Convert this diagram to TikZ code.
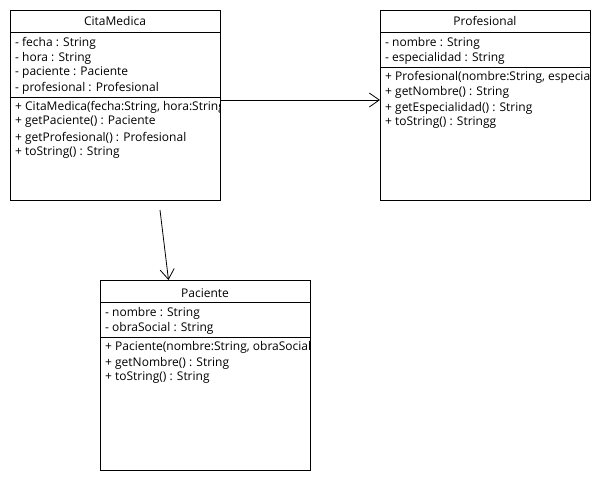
\documentclass[tikz,border=0pt]{standalone}
\usepackage{fontspec}
\setmainfont{Open Sans}
\usetikzlibrary{arrows.meta}
\begin{document}
\begin{tikzpicture}[x=1pt,y=-1pt,
  classbox/.style={draw,line width=0.8pt,minimum width=210pt,minimum height=190pt,anchor=north west,inner sep=0pt},
  sep/.style={line width=0.8pt},
  member/.style={anchor=west,inner sep=0pt,font=\fontsize{12}{14}\selectfont},
  title/.style={anchor=center,inner sep=0pt,font=\fontsize{12}{14}\selectfont},
  assoc/.style={line width=0.8pt,-{Straight Barb[length=10pt,width=14pt,line width=0.8pt]}}]
\useasboundingbox (0,0) rectangle (600,480);

% CitaMedica
\node[classbox] (cita) at (10,10) {};
\draw[sep] (10,32) -- (220,32);
\draw[sep] (10,97) -- (220,97);
\node[title] (citaname) at (115,21) {CitaMedica};
\begin{scope}
  \clip (10,10) rectangle (220,200);
  \node[member] (c1) at (15,43) {- fecha : String};
  \node[member] (c2) at (15,58) {- hora : String};
  \node[member] (c3) at (15,73) {- paciente : Paciente};
  \node[member] (c4) at (15,88) {- profesional : Profesional};
  \node[member] (c5) at (15,107) {+ CitaMedica(fecha:String, hora:String, paciente:Paciente, profesional:Profesional)};
  \node[member] (c6) at (15,122) {+ getPaciente() : Paciente};
  \node[member] (c7) at (15,138) {+ getProfesional() : Profesional};
  \node[member] (c8) at (15,153) {+ toString() : String};
\end{scope}

% Profesional
\node[classbox] (prof) at (380,10) {};
\draw[sep] (380,32) -- (590,32);
\draw[sep] (380,67) -- (590,67);
\node[title] (profname) at (485,21) {Profesional};
\begin{scope}
  \clip (380,10) rectangle (590,200);
  \node[member] (p1) at (385,43) {- nombre : String};
  \node[member] (p2) at (385,58) {- especialidad : String};
  \node[member] (p3) at (385,77) {+ Profesional(nombre:String, especialidad:String)};
  \node[member] (p4) at (385,92) {+ getNombre() : String};
  \node[member] (p5) at (385,108) {+ getEspecialidad() : String};
  \node[member] (p6) at (385,123) {+ toString() : Stringg};
\end{scope}

% Paciente
\node[classbox] (pac) at (100,280) {};
\draw[sep] (100,302) -- (310,302);
\draw[sep] (100,337) -- (310,337);
\node[title] (pacname) at (205,293) {Paciente};
\begin{scope}
  \clip (100,280) rectangle (310,470);
  \node[member] (a1) at (105,313) {- nombre : String};
  \node[member] (a2) at (105,328) {- obraSocial : String};
  \node[member] (a3) at (105,347) {+ Paciente(nombre:String, obraSocial:String)};
  \node[member] (a4) at (105,363) {+ getNombre() : String};
  \node[member] (a5) at (105,378) {+ toString() : String};
\end{scope}

% associations
\coordinate (citaright) at (220,100);
\coordinate (profleft) at (380,100);
\draw[assoc] (citaright) -- (profleft);
\coordinate (citabelow) at (160,210);
\coordinate (pactop) at (168.5,280);
\draw[assoc] (citabelow) -- (pactop);
\end{tikzpicture}
\end{document}
